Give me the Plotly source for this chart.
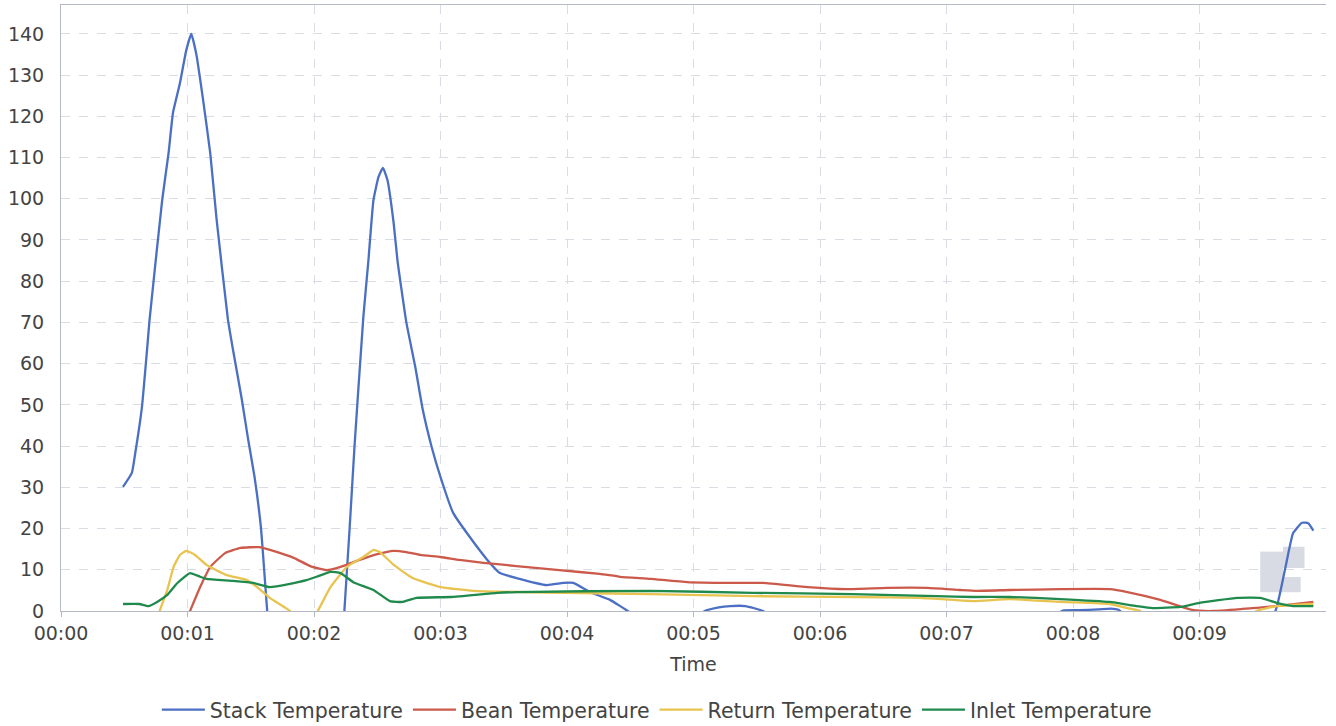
import plotly.graph_objects as go

# ---- data (x in minutes of "Time", y temperature) ----
stack_x = [0.49, 0.56, 0.585, 0.64, 0.68, 0.70, 0.80, 0.85, 0.885, 0.94, 0.99, 1.03, 1.07, 1.12, 1.18, 1.23,
           1.32, 1.36, 1.43, 1.48, 1.53, 1.58, 1.61, 1.63, 1.68, 2.18, 2.24, 2.32, 2.39, 2.43, 2.47, 2.51,
           2.545, 2.58, 2.63, 2.66, 2.73, 2.80, 2.86, 2.93, 3.00, 3.10, 3.23, 3.37, 3.47, 3.60, 3.84, 3.97,
           4.05, 4.18, 4.34, 4.48, 4.56, 5.00, 5.09, 5.20, 5.29, 5.41, 5.55, 5.62, 7.80, 7.92, 8.05, 8.20,
           8.30, 8.36, 8.45, 9.52, 9.60, 9.68, 9.74, 9.81, 9.86, 9.90]
stack_y = [30.1, 33.5, 37.9, 49.5, 63.3, 70.6, 99.7, 111.0, 120.8, 128.0, 136.0, 140.0, 135.0, 124.7, 111.0, 95.0,
           70.6, 63.3, 51.2, 41.5, 32.5, 20.4, 8.3, 0.0, -15, -15, 0.0, 39.8, 71.3, 85.0, 99.7, 105.3,
           107.5, 104.6, 94.0, 85.0, 70.0, 59.3, 48.8, 39.8, 32.5, 23.8, 18.0, 12.4, 9.2, 8.0, 6.3, 6.8,
           6.8, 4.6, 2.7, 0.0, -2, -2, 0.0, 0.9, 1.2, 1.2, 0.0, -2, -2, 0.1, 0.2, 0.4,
           0.6, 0.3, -2, -2, 0.0, 10.7, 18.9, 21.4, 21.3, 19.5]

bean_x = [0.95, 1.02, 1.10, 1.18, 1.30, 1.42, 1.57, 1.71, 1.84, 1.97, 2.10, 2.21, 2.36, 2.50, 2.63, 2.73,
          2.84, 3.00, 3.15, 3.34, 3.60, 3.94, 4.26, 4.42, 4.66, 4.95, 5.29, 5.55, 5.90, 6.21, 6.53, 6.85,
          7.11, 7.24, 7.50, 7.90, 8.29, 8.43, 8.69, 8.95, 9.11, 9.34, 9.61, 9.90]
bean_y = [-5.0, 0.0, 5.8, 10.7, 14.1, 15.3, 15.5, 14.3, 12.9, 10.9, 9.9, 10.7, 12.4, 13.8, 14.6, 14.3,
          13.6, 13.1, 12.4, 11.7, 10.9, 9.9, 9.0, 8.3, 7.8, 7.0, 6.8, 6.8, 5.8, 5.3, 5.6, 5.6,
          5.1, 4.9, 5.1, 5.3, 5.3, 4.6, 2.7, 0.2, 0.0, 0.5, 1.2, 2.2]

return_x = [0.72, 0.78, 0.84, 0.89, 0.94, 0.99, 1.06, 1.15, 1.31, 1.47, 1.55, 1.65, 1.81, 1.88, 1.97, 2.03,
            2.13, 2.26, 2.39, 2.47, 2.52, 2.63, 2.78, 3.00, 3.26, 4.00, 4.66, 5.47, 6.26, 6.79, 7.21, 7.50,
            7.90, 8.29, 8.43, 8.53, 8.60, 9.38, 9.45, 9.61, 9.90]
return_y = [-8.0, 0.0, 5.1, 10.7, 13.6, 14.6, 13.6, 11.2, 8.7, 7.5, 5.8, 3.2, 0.0, -3, -3, 0.0,
            5.8, 10.7, 13.1, 14.8, 14.3, 11.2, 8.0, 5.8, 4.9, 4.4, 4.1, 3.6, 3.4, 3.2, 2.4, 2.9,
            2.2, 1.7, 0.7, 0.0, -2, -2, 0.0, 1.2, 1.7]

inlet_x = [0.49, 0.62, 0.69, 0.76, 0.84, 0.92, 1.02, 1.10, 1.15, 1.36, 1.52, 1.65, 1.81, 1.94, 2.02, 2.13,
           2.21, 2.31, 2.47, 2.60, 2.70, 2.81, 3.08, 3.45, 3.60, 4.66, 5.47, 6.26, 6.92, 7.21, 7.50, 7.90,
           8.29, 8.50, 8.63, 8.85, 9.00, 9.30, 9.48, 9.64, 9.74, 9.90]
inlet_y = [1.7, 1.7, 1.2, 2.2, 3.9, 6.8, 9.2, 8.3, 7.8, 7.3, 6.8, 5.8, 6.6, 7.5, 8.3, 9.5,
           9.2, 7.0, 5.1, 2.4, 2.2, 3.2, 3.4, 4.4, 4.6, 4.9, 4.4, 4.1, 3.6, 3.4, 3.4, 2.9,
           2.2, 1.2, 0.7, 1.0, 2.0, 3.2, 3.2, 1.7, 1.2, 1.2]

tick_vals = [0, 1, 2, 3, 4, 5, 6, 7, 8, 9]
tick_text = ["00:00", "00:01", "00:02", "00:03", "00:04", "00:05", "00:06", "00:07", "00:08", "00:09"]
y_ticks = [0, 10, 20, 30, 40, 50, 60, 70, 80, 90, 100, 110, 120, 130, 140]

series = [
    ("Stack Temperature", stack_x, stack_y, "#4a6fc3"),
    ("Bean Temperature", bean_x, bean_y, "#cc5a4b"),
    ("Return Temperature", return_x, return_y, "#e9c34f"),
    ("Inlet Temperature", inlet_x, inlet_y, "#1f8a4c"),
]

fig = go.Figure()
for name, xs, ys, col in series:
    fig.add_trace(go.Scatter(x=xs, y=ys, mode="lines", name=name,
                             line=dict(color=col, width=2.3, shape="spline", smoothing=0.4)))

font = dict(family="DejaVu Sans", size=19, color="#444444")

fig.update_layout(
    width=1336, height=726,
    margin=dict(l=61, r=10, t=5, b=115, autoexpand=False),
    paper_bgcolor="white", plot_bgcolor="white",
    font=font,
    showlegend=True,
    legend=dict(orientation="h", x=0.471, xanchor="center", y=-0.163, yanchor="middle",
                font=dict(family="DejaVu Sans", size=20.5, color="#444444"),
                itemwidth=43, tracegroupgap=0),
    xaxis=dict(range=[0, 10.0], tickvals=tick_vals, ticktext=tick_text,
               showgrid=True, gridcolor="#d9dce5", griddash="dash", gridwidth=1,
               showline=True, linecolor="#b5b9c4", linewidth=1, mirror=True,
               ticks="outside", ticklen=5, tickcolor="#b5b9c4",
               zeroline=False, tickfont=font, automargin=False,
               title=dict(text="Time", font=font, standoff=14)),
    yaxis=dict(range=[0, 147], tickvals=y_ticks,
               showgrid=True, gridcolor="#d9dce5", griddash="dash", gridwidth=1,
               showline=True, linecolor="#b5b9c4", linewidth=1,
               ticks="", zeroline=False, tickfont=font, ticklabelstandoff=12,
               automargin=False),
    shapes=[
        dict(type="rect", xref="paper", yref="paper", x0=0.948, x1=0.966, y0=0.031, y1=0.098,
             fillcolor="#d8dbe4", line=dict(width=0), layer="below"),
        dict(type="rect", xref="paper", yref="paper", x0=0.966, x1=0.983, y0=0.071, y1=0.106,
             fillcolor="#d8dbe4", line=dict(width=0), layer="below"),
        dict(type="rect", xref="paper", yref="paper", x0=0.966, x1=0.980, y0=0.031, y1=0.056,
             fillcolor="#d8dbe4", line=dict(width=0), layer="below"),
    ],
)

fig.write_html("out.html", config={"displayModeBar": False},
               post_script="document.body.style.margin='0px';document.body.style.overflow='hidden';")
